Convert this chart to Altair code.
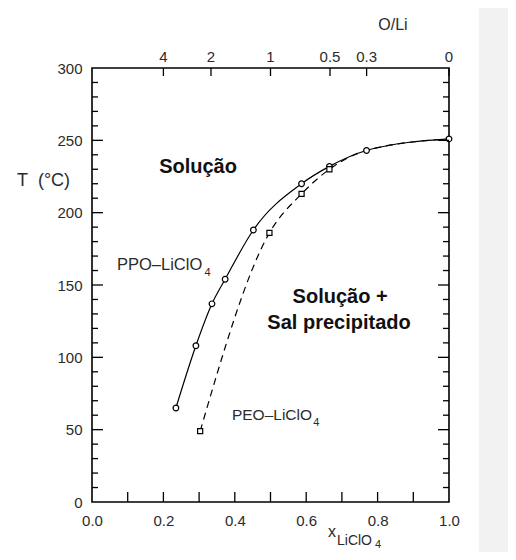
import altair as alt
import pandas as pd

# ---- data ----
ppo_x = [0.235, 0.291, 0.336, 0.373, 0.452, 0.587, 0.665, 0.769, 1.0]
ppo_T = [65, 108, 137, 154, 188, 220, 232, 243, 251]

peo_x = [0.303, 0.497, 0.587, 0.665, 0.769, 1.0]
peo_T = [49, 186, 213, 230, 243, 251]
peo_marker_x = [0.303, 0.497, 0.587, 0.665]
peo_marker_T = [49, 186, 213, 230]

x_tick_labels = [0.0, 0.2, 0.4, 0.6, 0.8, 1.0]
y_tick_labels = [0, 50, 100, 150, 200, 250, 300]
x_minor = [round(0.1 * i, 1) for i in range(1, 10)]
y_minor = [v for v in range(10, 300, 10) if v % 50 != 0]
y_major = [50, 100, 150, 200, 250]

ol_ratio = [4, 2, 1, 0.5, 0.3, 0]
ol_label = ["4", "2", "1", "0.5", "0.3", "0"]

FONT = "Liberation Sans"
INK = "#2b2b2b"

xs = alt.Scale(domain=[0, 1], nice=False, zero=False)
ys = alt.Scale(domain=[0, 300], nice=False, zero=False)

xaxis = alt.Axis(values=x_tick_labels, format=".1f", ticks=False, tickSize=0, domain=False,
                 grid=False, labelFont=FONT, labelFontSize=15, labelColor=INK,
                 labelPadding=11, labelFlush=False, labelOverlap=False, title=None)
yaxis = alt.Axis(values=y_tick_labels, ticks=False, tickSize=0, domain=False, grid=False,
                 labelFont=FONT, labelFontSize=15, labelColor=INK, labelPadding=10,
                 labelFlush=False, labelOverlap=False,
                 title="T\u00a0\u00a0(°C)", titleAngle=0, titleFont=FONT, titleFontSize=18,
                 titleFontWeight="normal", titleColor=INK, titleX=-49, titleY=112,
                 titleAlign="center", titleBaseline="middle")

X = lambda f: alt.X(f, scale=xs, axis=xaxis)
Y = lambda f: alt.Y(f, scale=ys, axis=yaxis)

ppo_df = pd.DataFrame({"x": ppo_x, "T": ppo_T})
peo_df = pd.DataFrame({"x": peo_x, "T": peo_T})
peo_m_df = pd.DataFrame({"x": peo_marker_x, "T": peo_marker_T})

# gray side panel
panel = alt.Chart(pd.DataFrame({"a": [0]})).mark_rect(color="#f2f2f2").encode(
    x=alt.value(387), x2=alt.value(420), y=alt.value(-60), y2=alt.value(490))

ppo_line = alt.Chart(ppo_df).mark_line(color="black", strokeWidth=1.2,
                                        interpolate="monotone").encode(x=X("x:Q"), y=Y("T:Q"))
peo_line = alt.Chart(peo_df).mark_line(color="black", strokeWidth=1.2, strokeDash=[7, 5],
                                        interpolate="monotone").encode(x=X("x:Q"), y=Y("T:Q"))
ppo_pts = alt.Chart(ppo_df).mark_point(shape="circle", size=32, filled=True, fill="white",
                                        stroke="black", strokeWidth=1.2, opacity=1).encode(
    x=X("x:Q"), y=Y("T:Q"))
peo_pts = alt.Chart(peo_m_df).mark_point(shape="square", size=26, filled=True, fill="white",
                                          stroke="black", strokeWidth=1.2, opacity=1).encode(
    x=X("x:Q"), y=Y("T:Q"))

# inward ticks
ymaj_df = pd.DataFrame({"T": y_major})
ymin_df = pd.DataFrame({"T": y_minor})
left_major = alt.Chart(ymaj_df).mark_rule(color="black", strokeWidth=1.3).encode(
    y=Y("T:Q"), x=alt.value(0), x2=alt.value(11))
left_minor = alt.Chart(ymin_df).mark_rule(color="black", strokeWidth=1.3).encode(
    y=Y("T:Q"), x=alt.value(0), x2=alt.value(6))
right_major = alt.Chart(ymaj_df).mark_rule(color="black", strokeWidth=1.3).encode(
    y=Y("T:Q"), x=alt.value(357), x2=alt.value(346))
right_minor = alt.Chart(ymin_df).mark_rule(color="black", strokeWidth=1.3).encode(
    y=Y("T:Q"), x=alt.value(357), x2=alt.value(351))
bottom_ticks = alt.Chart(pd.DataFrame({"x": x_minor})).mark_rule(color="black", strokeWidth=1.3).encode(
    x=X("x:Q"), y=alt.value(434), y2=alt.value(424))

top_df = pd.DataFrame({"x": [1.0 / (1.0 + r) for r in ol_ratio], "lab": ol_label})
top_ticks = alt.Chart(top_df).mark_rule(color="black", strokeWidth=1.3).encode(
    x=X("x:Q"), y=alt.value(0), y2=alt.value(8))
top_labels = alt.Chart(top_df).mark_text(font=FONT, fontSize=15, color=INK, baseline="bottom",
                                         align="center").encode(
    x=X("x:Q"), y=alt.value(-3), text="lab:N")

# annotations (data coordinates)
bold_df = pd.DataFrame({"x": [0.297, 0.695, 0.692], "T": [231.5, 141.7, 123.7],
                        "t": ["Solução", "Solução +", "Sal precipitado"]})
bold_txt = alt.Chart(bold_df).mark_text(font=FONT, fontSize=20, fontWeight="bold", color="#111",
                                        align="center", baseline="middle").encode(
    x=X("x:Q"), y=Y("T:Q"), text="t:N")

lab1 = alt.Chart(pd.DataFrame({"x": [0.070], "T": [163.8], "t": ["PPO–LiClO"]})).mark_text(
    font=FONT, fontSize=16.5, color=INK, align="left", baseline="middle").encode(
    x=X("x:Q"), y=Y("T:Q"), text="t:N")
lab2 = alt.Chart(pd.DataFrame({"x": [0.392], "T": [60.0], "t": ["PEO–LiClO"]})).mark_text(
    font=FONT, fontSize=15.5, color=INK, align="left", baseline="middle").encode(
    x=X("x:Q"), y=Y("T:Q"), text="t:N")
sub_df = pd.DataFrame({"x": [0.315, 0.620], "T": [158.0, 54.5], "t": ["4", "4"]})
sub_txt = alt.Chart(sub_df).mark_text(font=FONT, fontSize=11, color=INK, align="left",
                                      baseline="middle").encode(
    x=X("x:Q"), y=Y("T:Q"), text="t:N")

# axis titles outside the plot
one = pd.DataFrame({"a": [0]})
ol_title = alt.Chart(one).mark_text(font=FONT, fontSize=16, color=INK, align="center",
                                    baseline="middle", text="O/Li").encode(
    x=alt.value(301), y=alt.value(-43))
xt1 = alt.Chart(one).mark_text(font=FONT, fontSize=16, color=INK, align="left",
                               baseline="middle", text="x").encode(
    x=alt.value(236), y=alt.value(464))
xt2 = alt.Chart(one).mark_text(font=FONT, fontSize=14, color=INK, align="left",
                               baseline="middle", text="LiClO").encode(
    x=alt.value(245), y=alt.value(473))
xt3 = alt.Chart(one).mark_text(font=FONT, fontSize=11, color=INK, align="left",
                               baseline="middle", text="4").encode(
    x=alt.value(283), y=alt.value(477))

chart = alt.layer(
    panel, ppo_line, peo_line, ppo_pts, peo_pts,
    left_major, left_minor, right_major, right_minor, bottom_ticks, top_ticks, top_labels,
    bold_txt, lab1, lab2, sub_txt, ol_title, xt1, xt2, xt3
).properties(
    width=357, height=434,
    padding={"left": 84, "top": 60, "right": 59, "bottom": 50},
    autosize=alt.AutoSizeParams(type="none"),
    background="white",
).configure_view(stroke="black", strokeWidth=1.6)

chart.save("out.html", embed_options={"renderer": "svg", "actions": False})
